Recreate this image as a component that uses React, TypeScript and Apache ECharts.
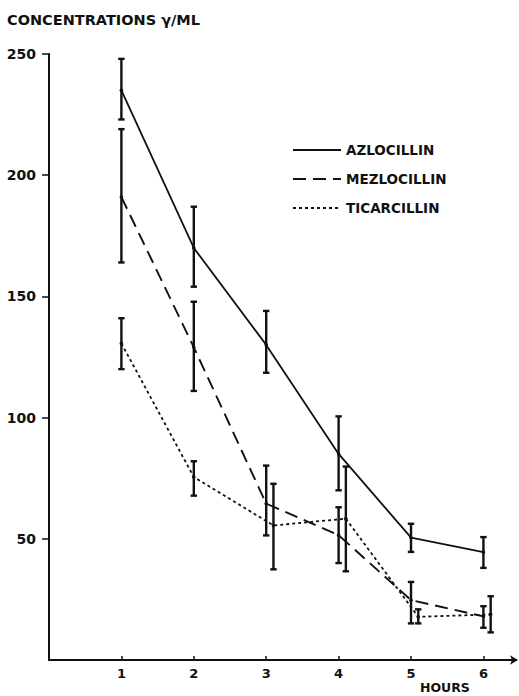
import React, { useEffect, useRef } from "react";
import * as echarts from "echarts";

const hourTicks = [1, 2, 3, 4, 5, 6];
const yTicks = [50, 100, 150, 200, 250];

const azloX = [1, 2, 3, 4, 5, 6];
const azloMean = [235, 170, 130, 85, 50.5, 44.5];
const azloLow = [223, 154, 118.5, 70, 44.6, 38];
const azloHigh = [248, 187, 144, 100.5, 56.2, 50.7];

const mezloX = [1, 2, 3, 4, 5, 6];
const mezloMean = [191, 129, 64.5, 51.5, 24.7, 18];
const mezloLow = [164, 111, 51.4, 40, 15.1, 13.3];
const mezloHigh = [219, 147.8, 80.2, 63, 32.2, 22.2];

const ticaX = [1, 2, 3.1, 4.1, 5.1, 6.1];
const ticaMean = [130.6, 75.5, 55.5, 58.3, 17.8, 18.8];
const ticaLow = [120, 67.8, 37.4, 36.6, 15.1, 11.4];
const ticaHigh = [141, 82, 72.7, 79.8, 20.9, 26.3];

const names = ["AZLOCILLIN", "MEZLOCILLIN", "TICARCILLIN"];

const INK = "#111";
const FONT = "DejaVu Sans";

function errSeries(name: string, xs: number[], lo: number[], hi: number[], mean: number[]) {
  return {
    type: "custom",
    name: name + " SD",
    data: xs.map((x, i) => [x, lo[i], hi[i], mean[i]]),
    encode: { x: 0, y: [1, 2] },
    renderItem: (params: any, api: any) => {
      const x = api.value(0);
      const p1 = api.coord([x, api.value(1)]);
      const p2 = api.coord([x, api.value(2)]);
      const pm = api.coord([x, api.value(3)]);
      const cap = 3.2;
      const st = { stroke: INK, lineWidth: 2.4, fill: "none" };
      return {
        type: "group",
        children: [
          { type: "line", shape: { x1: p1[0], y1: p1[1], x2: p2[0], y2: p2[1] }, style: st },
          { type: "line", shape: { x1: p1[0] - cap, y1: p1[1], x2: p1[0] + cap, y2: p1[1] }, style: st },
          { type: "line", shape: { x1: p2[0] - cap, y1: p2[1], x2: p2[0] + cap, y2: p2[1] }, style: st },
          { type: "circle", shape: { cx: pm[0], cy: pm[1], r: 1.8 }, style: { fill: INK } },
        ],
      };
    },
    z: 3,
  };
}

function lineSeries(name: string, xs: number[], ys: number[], type: any, width: number) {
  return {
    type: "line",
    name,
    data: xs.map((x, i) => [x, ys[i]]),
    symbol: "none",
    lineStyle: { color: INK, width, type },
    itemStyle: { color: INK },
    z: 2,
  };
}

export default function App() {
  const ref = useRef<HTMLDivElement>(null);
  useEffect(() => {
    if (!ref.current) return;
    const chart = echarts.init(ref.current, null, { renderer: "svg" });
    chart.setOption({
      animation: false,
      backgroundColor: "#fff",
      grid: { left: 49, right: 3, top: 54, bottom: 36, containLabel: false },
      xAxis: {
        type: "value",
        min: 0,
        max: 6.45,
        interval: 1,
        splitLine: { show: false },
        axisLine: { show: true, lineStyle: { color: INK, width: 2 }, symbol: ["none", "arrow"], symbolSize: [7, 8], symbolOffset: [0, 2] },
        axisTick: { show: true, inside: true, length: 4, lineStyle: { color: INK, width: 1.5 }, customValues: hourTicks },
        axisLabel: { color: INK, fontFamily: FONT, fontSize: 13, fontWeight: "bold", margin: 7, customValues: hourTicks },
      },
      yAxis: {
        type: "value",
        min: 0,
        max: 250,
        interval: 50,
        splitLine: { show: false },
        axisLine: { show: true, lineStyle: { color: INK, width: 2 } },
        axisTick: { show: true, inside: false, length: 7, lineStyle: { color: INK, width: 1.5 }, customValues: yTicks },
        axisLabel: { color: INK, fontFamily: FONT, fontSize: 14, fontWeight: "bold", margin: 13, customValues: yTicks },
      },
      legend: {
        data: names,
        orient: "vertical",
        left: 287,
        top: 138,
        itemWidth: 48,
        itemHeight: 14,
        itemGap: 15,
        itemStyle: { color: "transparent", borderColor: "transparent", borderWidth: 0, opacity: 0 },
        textStyle: { color: INK, fontFamily: FONT, fontSize: 13.5, fontWeight: "bold" },
        selectedMode: false,
      },
      graphic: [
        {
          type: "text",
          left: 7,
          top: 12,
          style: { text: "CONCENTRATIONS γ/ML", fill: INK, font: `bold 14.5px "${FONT}"` },
        },
        {
          type: "text",
          left: 420,
          top: 681,
          style: { text: "HOURS", fill: INK, font: `bold 12.5px "${FONT}"` },
        },
      ],
      series: [
        lineSeries(names[0], azloX, azloMean, "solid", 1.8),
        lineSeries(names[1], mezloX, mezloMean, [13, 7], 1.9),
        lineSeries(names[2], ticaX, ticaMean, [3, 3], 1.8),
        errSeries(names[0], azloX, azloLow, azloHigh, azloMean),
        errSeries(names[1], mezloX, mezloLow, mezloHigh, mezloMean),
        errSeries(names[2], ticaX, ticaLow, ticaHigh, ticaMean),
      ],
    });
    return () => chart.dispose();
  }, []);
  return (
    <div
      ref={ref}
      style={{ position: "fixed", left: 0, top: 0, width: 519, height: 696, background: "#fff" }}
    />
  );
}
